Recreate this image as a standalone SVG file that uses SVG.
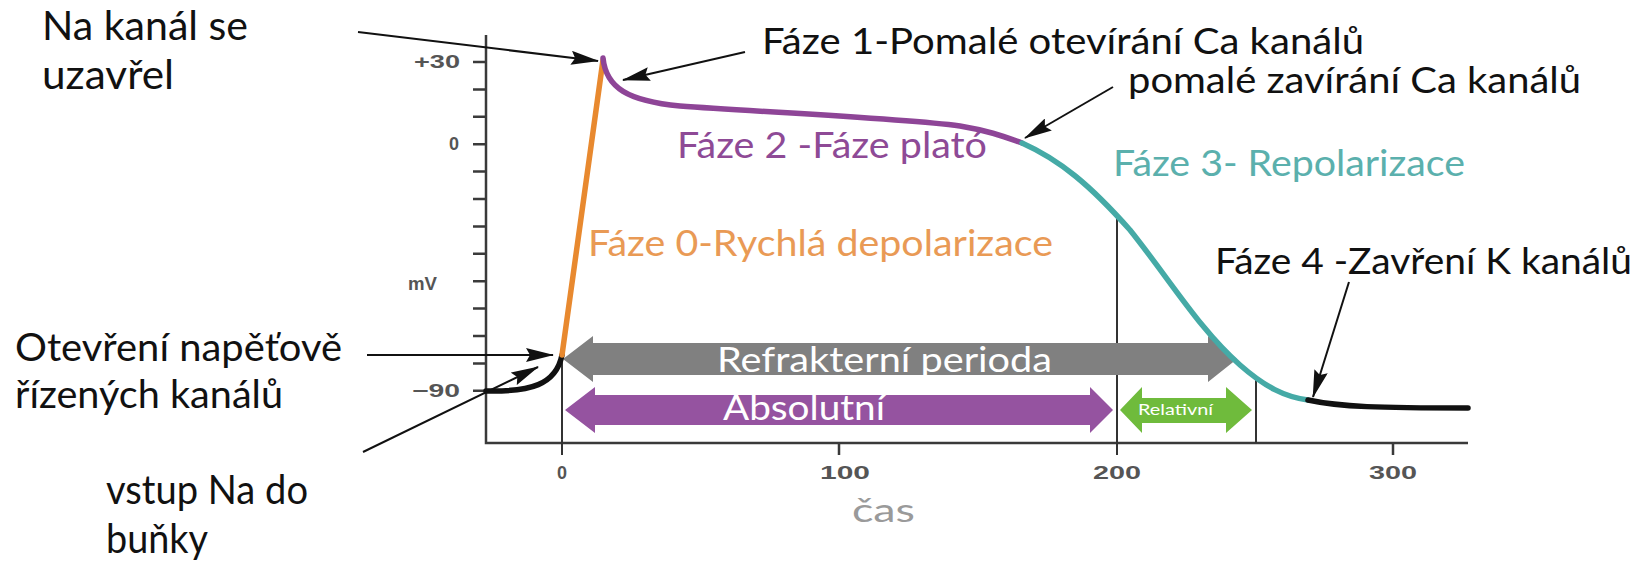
<svg xmlns="http://www.w3.org/2000/svg" width="1649" height="561" viewBox="0 0 1649 561">
<style>
.ann{font-family:Lato,"Noto Sans",sans-serif;font-size:37px;fill:#111}
.big{font-family:Lato,"Noto Sans",sans-serif;font-size:41px;fill:#111}
.ax{font-family:"Liberation Sans",Arial,sans-serif;font-size:18px;font-weight:bold;fill:#555}
.axis{stroke:#3a3a3a;stroke-width:2.5;fill:none}
.vl{stroke:#333;stroke-width:2;fill:none}
.pt{stroke-linecap:round;fill:none;stroke-width:5.5}
.con{stroke:#111;stroke-width:2;fill:none;marker-end:url(#ah)}
.ins{font-family:Lato,"Noto Sans",sans-serif;fill:#fff}
</style>
<defs>
<marker id="ah" viewBox="0 0 28 14" refX="27" refY="7" markerWidth="28" markerHeight="14" markerUnits="userSpaceOnUse" orient="auto">
<path d="M0,0 L28,7 L0,14 L4,7 z" fill="#111"/>
</marker>
</defs>
<rect width="1649" height="561" fill="#fff"/>

<g id="axes">
<path class="axis" d="M486,35 V443 H1468"/>
<path class="axis" d="M473,62 H486 M473,89.4 H486 M473,116.8 H486 M473,144.2 H486 M473,171.6 H486 M473,199 H486 M473,226.4 H486 M473,253.8 H486 M473,281.2 H486 M473,308.6 H486 M473,336 H486 M473,363.4 H486 M473,390.8 H486"/>
<path class="axis" d="M839,443 V455 M1393,443 V455"/>
<path class="vl" d="M562,355 V455 M1117,213 V455 M1256,380 V443"/>
<text class="ax" x="460" y="68" text-anchor="end" textLength="46" lengthAdjust="spacingAndGlyphs">+30</text>
<text class="ax" x="459" y="150" text-anchor="end">0</text>
<text class="ax" x="460" y="397" text-anchor="end" textLength="48" lengthAdjust="spacingAndGlyphs">−90</text>
<text class="ax" x="408" y="290" textLength="29" lengthAdjust="spacingAndGlyphs">mV</text>
<text class="ax" x="562" y="479" text-anchor="middle">0</text>
<text class="ax" x="820" y="479" textLength="50" lengthAdjust="spacingAndGlyphs">100</text>
<text class="ax" x="1093" y="479" textLength="48" lengthAdjust="spacingAndGlyphs">200</text>
<text class="ax" x="1369" y="479" textLength="48" lengthAdjust="spacingAndGlyphs">300</text>
<text x="852" y="522" font-family="Lato,'Noto Sans',sans-serif" font-size="32" fill="#9a9a9a" textLength="63" lengthAdjust="spacingAndGlyphs">čas</text>
</g>

<g id="periods">
<polygon points="563,359 593,336 593,343 1208,343 1208,336 1237,359 1208,382 1208,375 593,375 593,382" fill="#808080"/>
<polygon points="565,410 595,387 595,395 1090,395 1090,387 1113,410 1090,433 1090,425 595,425 595,433" fill="#9553a0"/>
<polygon points="1120,410 1142,387 1142,398 1226,398 1226,387 1252,410 1226,433 1226,423 1142,423 1142,433" fill="#6fbb3c"/>
<text class="ins" x="717" y="372" font-size="35" textLength="335" lengthAdjust="spacingAndGlyphs">Refrakterní perioda</text>
<text class="ins" x="723" y="420" font-size="35" textLength="162" lengthAdjust="spacingAndGlyphs">Absolutní</text>
<text class="ins" x="1138" y="415" font-size="15" textLength="75" lengthAdjust="spacingAndGlyphs">Relativní</text>
</g>

<g id="curve">
<path class="pt" stroke="#111" d="M486,391 C530,392 556,385 562,355"/>
<path class="pt" stroke="#e8892f" d="M562,355 L603,60"/>
<path class="pt" stroke="#8e4597" d="M603,58 C606,88 628,101 680,106 C760,112 900,118 960,126 C990,131 1005,137 1022,143"/>
<path class="pt" stroke="#45aaa6" d="M1022,143 C1060,160 1090,185 1130,230 C1170,280 1200,330 1240,365 C1265,387 1285,397 1308,400"/>
<path class="pt" stroke="#111" stroke-width="6.5" d="M1308,400 C1340,407 1380,408 1468,408"/>
</g>

<g id="connectors">
<path class="con" d="M358,32 L598,61"/>
<path class="con" d="M745,52 L623,80"/>
<path class="con" d="M1113,87 L1025,138"/>
<path class="con" d="M367,355 L553,355"/>
<path class="con" d="M363,452 L538,367"/>
<path class="con" d="M1349,282 L1313,397"/>
</g>

<g id="labels">
<text class="big" x="42" y="40" textLength="206" lengthAdjust="spacingAndGlyphs">Na kanál se</text>
<text class="big" x="42" y="89" textLength="132" lengthAdjust="spacingAndGlyphs">uzavřel</text>
<text class="big" x="15" y="361" font-size="39" style="font-size:39px" textLength="327" lengthAdjust="spacingAndGlyphs">Otevření napěťově</text>
<text class="big" x="15" y="408" style="font-size:39px" textLength="268" lengthAdjust="spacingAndGlyphs">řízených kanálů</text>
<text class="big" x="106" y="504" textLength="202" lengthAdjust="spacingAndGlyphs">vstup Na do</text>
<text class="big" x="106" y="553" textLength="102" lengthAdjust="spacingAndGlyphs">buňky</text>
<text class="ann" x="762" y="54" textLength="602" lengthAdjust="spacingAndGlyphs">Fáze 1-Pomalé otevírání Ca kanálů</text>
<text class="ann" x="1128" y="93" textLength="453" lengthAdjust="spacingAndGlyphs">pomalé zavírání Ca kanálů</text>
<text class="ann" x="677" y="158" style="fill:#8e4a96" textLength="310" lengthAdjust="spacingAndGlyphs">Fáze 2 -Fáze plató</text>
<text class="ann" x="1113" y="176" style="fill:#5bb0ad" textLength="352" lengthAdjust="spacingAndGlyphs">Fáze 3- Repolarizace</text>
<text class="ann" x="588" y="256" style="fill:#e99a55" textLength="465" lengthAdjust="spacingAndGlyphs">Fáze 0-Rychlá depolarizace</text>
<text class="ann" x="1215" y="274" textLength="417" lengthAdjust="spacingAndGlyphs">Fáze 4 -Zavření K kanálů</text>
</g>
</svg>
